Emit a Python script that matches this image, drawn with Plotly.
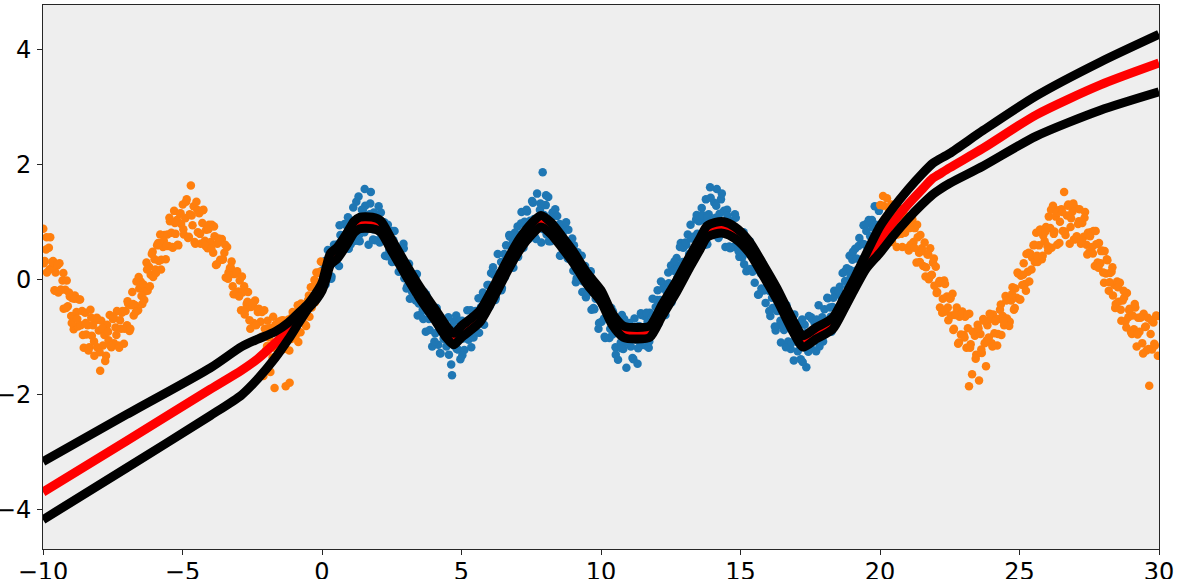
import plotly.graph_objects as go

# ---- training points (blue), x in [0, 20] ----
blue_x = [
0.01,0.06,0.11,0.14,0.21,0.25,0.31,0.34,0.41,0.46,
0.52,0.56,0.61,0.66,0.70,0.76,0.81,0.85,0.91,0.96,
1.01,1.05,1.12,1.16,1.20,1.26,1.31,1.35,1.41,1.46,
1.52,1.55,1.61,1.67,1.71,1.75,1.82,1.86,1.90,1.97,
2.01,2.07,2.11,2.15,2.22,2.26,2.30,2.36,2.41,2.45,
2.51,2.56,2.60,2.66,2.72,2.75,2.81,2.86,2.92,2.95,
3.02,3.06,3.12,3.15,3.21,3.27,3.30,3.36,3.40,3.47,
3.52,3.55,3.61,3.66,3.72,3.76,3.80,3.86,3.91,3.95,
4.02,4.06,4.11,4.17,4.20,4.25,4.31,4.36,4.40,4.46,
4.51,4.55,4.62,4.66,4.71,4.75,4.81,4.87,4.91,4.96,
5.02,5.06,5.10,5.17,5.21,5.25,5.31,5.35,5.42,5.46,
5.51,5.57,5.61,5.65,5.70,5.77,5.81,5.86,5.90,5.97,
6.01,6.06,6.12,6.16,6.21,6.26,6.30,6.35,6.42,6.45,
6.51,6.56,6.60,6.67,6.71,6.75,6.82,6.86,6.91,6.95,
7.01,7.07,7.11,7.15,7.22,7.26,7.31,7.35,7.41,7.46,
7.51,7.56,7.60,7.67,7.71,7.75,7.81,7.86,7.91,7.96,
8.02,8.05,8.11,8.16,8.20,8.26,8.30,8.36,8.41,8.45,
8.52,8.56,8.61,8.65,8.72,8.75,8.81,8.86,8.90,8.97,
9.01,9.06,9.10,9.16,9.21,9.25,9.31,9.37,9.40,9.46,
9.51,9.55,9.62,9.66,9.70,9.76,9.81,9.86,9.91,9.95,
10.02,10.06,10.11,10.15,10.21,10.25,10.30,10.37,10.41,10.46,
10.52,10.55,10.61,10.66,10.71,10.75,10.80,10.86,10.91,10.96,
11.01,11.07,11.11,11.16,11.20,11.25,11.31,11.36,11.41,11.45,
11.51,11.56,11.60,11.67,11.71,11.75,11.81,11.85,11.92,11.96,
12.01,12.06,12.12,12.15,12.20,12.26,12.31,12.35,12.41,12.46,
12.51,12.55,12.61,12.66,12.71,12.76,12.80,12.86,12.91,12.95,
13.02,13.06,13.11,13.16,13.21,13.25,13.30,13.36,13.41,13.45,
13.51,13.57,13.61,13.65,13.70,13.76,13.81,13.86,13.91,13.95,
14.02,14.06,14.11,14.15,14.21,14.25,14.30,14.36,14.41,14.46,
14.52,14.56,14.60,14.66,14.71,14.76,14.80,14.86,14.90,14.96,
15.01,15.06,15.11,15.15,15.21,15.26,15.30,15.35,15.42,15.46,
15.51,15.55,15.61,15.66,15.71,15.75,15.81,15.86,15.90,15.96,
16.02,16.07,16.10,16.15,16.21,16.26,16.31,16.35,16.41,16.45,
16.51,16.56,16.62,16.65,16.71,16.76,16.80,16.85,16.91,16.96,
17.01,17.05,17.11,17.16,17.21,17.25,17.30,17.36,17.41,17.45,
17.52,17.56,17.61,17.65,17.71,17.76,17.80,17.86,17.90,17.96,
18.01,18.06,18.11,18.15,18.21,18.26,18.30,18.36,18.40,18.46,
18.52,18.56,18.61,18.66,18.70,18.75,18.81,18.86,18.91,18.95,
19.01,19.07,19.11,19.16,19.20,19.26,19.31,19.35,19.41,19.45,
19.51,19.56,19.60,19.65,19.71,19.75,19.81,19.85,19.90,19.96]
blue_y = [
.16,-.02,.33,.09,.52,.07,.37,.06,.52,.46,
.29,.62,.24,.78,.68,.57,.97,.69,.93,.54,
1.04,.73,1.26,.90,.68,1.06,1.45,.67,1.07,1.21,
.83,1.29,1.06,.61,1.14,1.53,.88,1.17,.69,.96,
1.03,.65,1.17,.77,.98,.42,.77,.96,.52,.73,
.31,.69,.85,.35,.46,.14,.51,.25,.63,.03,
.19,-.11,.28,-.33,.06,-.18,.06,-.36,.10,-.41,
-.61,-.29,-.52,-.21,-.90,-.54,-.43,-.87,-.61,-1.16,
-.56,-.93,-.49,-1.13,-.81,-1.28,-.77,-1.02,-.70,-1.16,
-.86,-1.30,-.98,-1.66,-.73,-1.15,-.62,-1.21,-.89,-1.38,
-.71,-1.02,-1.22,-.75,-.53,-1.04,-.78,-1.17,-.57,-.76,
-.54,-.91,-.32,-.70,-.47,-.22,-.78,-.29,-.41,-.09,
-.46,.12,-.22,.09,-.35,.07,.45,-.07,.31,-.14,
.31,.05,.60,.33,.78,.29,.63,.21,.82,.61,
.93,.58,.79,1.18,.56,1.01,.79,1.19,.71,1.03,
.79,1.34,1.06,.71,1.50,.94,1.22,.65,1.87,1.13,
1.30,.79,1.44,.98,.67,1.17,.82,1.23,.71,.91,
.97,.43,.79,.94,.53,1.00,.37,.67,.45,.72,
.16,.47,-.04,.48,.25,.00,.42,-.03,.19,-.30,
.12,-.18,.14,-.52,-.15,-.51,-.33,-.15,-.85,-.36,
-.73,-.33,-.67,-1.01,-.51,-.66,-1.01,-.49,-.95,-.71,
-1.17,-.82,-1.39,-.74,-1.09,-.61,-1.20,-.95,-1.53,-.83,
-.75,-1.16,-.91,-1.38,-.67,-1.04,-1.46,-.80,-1.14,-.61,
-1.01,-.63,-1.14,-.73,-1.18,-.57,-.73,-.33,-.80,-.47,
-.35,-.76,-.35,-.03,-.51,-.08,-.61,-.20,.13,-.32,
.25,-.21,.16,-.19,.38,.24,.07,.64,.26,.56,
.21,.61,.79,.45,.96,.34,.75,.53,1.05,.80,
1.02,.69,1.25,.81,1.04,1.40,.62,1.14,1.61,.92,
.78,1.34,1.08,1.58,.73,1.15,1.40,.86,1.20,.57,
1.22,.84,.58,1.02,.86,.57,1.14,.62,.81,.40,
.77,.39,.83,.48,.15,.64,.45,.19,.58,.17,
-.05,.35,.18,-.25,.24,-.15,.27,-.18,-.40,-.09,
-.19,-.63,-.05,-.49,-.29,-.88,-.54,-.33,-.79,-1.09,
-.48,-.87,-.74,-.44,-1.07,-.73,-1.20,-.82,-1.40,-.76,
-.80,-1.24,-.91,-1.38,-.69,-1.14,-.78,-1.52,-.94,-.63,
-1.18,-.68,-1.01,-.74,-1.24,-.78,-.44,-1.01,-.79,-1.07,
-.51,-.80,-.31,-.89,-.48,-.90,-.47,-.19,-.60,-.24,
-.54,-.12,-.29,.12,-.42,-.02,.20,-.12,.42,.06,
.35,.08,.54,.37,.13,.73,.35,.63,.95,.39,
.85,.54,1.04,.76,1.04,.60,1.28,.96,.81,1.20]

blue_x2 = [
0.03,0.13,0.23,0.33,0.43,0.53,0.63,0.73,0.83,0.93,
1.03,1.13,1.23,1.33,1.43,1.53,1.63,1.73,1.83,1.93,
2.03,2.13,2.23,2.33,2.43,2.53,2.63,2.73,2.83,2.93,
3.03,3.13,3.23,3.33,3.43,3.53,3.63,3.73,3.83,3.93,
4.03,4.13,4.23,4.33,4.43,4.53,4.63,4.73,4.83,4.93,
5.03,5.13,5.23,5.33,5.43,5.53,5.63,5.73,5.83,5.93,
6.03,6.13,6.23,6.33,6.43,6.53,6.63,6.73,6.83,6.93,
7.03,7.13,7.23,7.33,7.43,7.53,7.63,7.73,7.83,7.93,
8.03,8.13,8.23,8.33,8.43,8.53,8.63,8.73,8.83,8.93,
9.03,9.13,9.23,9.33,9.43,9.53,9.63,9.73,9.83,9.93,
10.03,10.13,10.23,10.33,10.43,10.53,10.63,10.73,10.83,10.93,
11.03,11.13,11.23,11.33,11.43,11.53,11.63,11.73,11.83,11.93,
12.03,12.13,12.23,12.33,12.43,12.53,12.63,12.73,12.83,12.93,
13.03,13.13,13.23,13.33,13.43,13.53,13.63,13.73,13.83,13.93,
14.03,14.13,14.23,14.33,14.43,14.53,14.63,14.73,14.83,14.93,
15.03,15.13,15.23,15.33,15.43,15.53,15.63,15.73,15.83,15.93,
16.03,16.13,16.23,16.33,16.43,16.53,16.63,16.73,16.83,16.93,
17.03,17.13,17.23,17.33,17.43,17.53,17.63,17.73,17.83,17.93,
18.03,18.13,18.23,18.33,18.43,18.53,18.63,18.73,18.83,18.93,
19.03,19.13,19.23,19.33,19.43,19.53,19.63,19.73,19.83,19.93]
blue_y2 = [
.30,-.08,.31,.02,.61,.46,.95,.53,.79,1.09,
.62,1.01,1.36,.78,1.22,1.58,.89,1.33,.70,1.11,
1.28,.76,1.00,.41,.71,.85,.32,.53,.25,.55,
-.15,.16,-.21,.08,-.62,-.29,-.68,-.25,-.68,-.53,
-1.07,-.72,-1.27,-.71,-1.04,-.65,-1.47,-.86,-1.20,-.71,
-1.31,-.84,-1.02,-.53,-1.00,-.58,-.92,-.33,-.51,-.09,
-.43,.22,-.31,.11,-.18,.45,.25,.75,.30,.74,
.40,.98,.76,1.22,.74,1.37,.74,1.07,1.33,.88,
1.47,.67,1.09,.84,1.11,.42,.83,.46,.87,.40,
.60,.03,.26,-.21,.24,-.23,.15,-.49,-.31,-.75,
-.41,-.99,-.50,-.85,-.55,-1.30,-.81,-1.19,-.68,-1.09,
-.82,-1.36,-.91,-1.19,-.58,-1.00,-.57,-1.07,-.63,-.81,
-.18,-.54,-.15,-.52,-.06,-.39,.32,.03,.57,.31,
.65,.26,.72,.50,1.13,.74,1.13,.61,1.09,1.43,
.83,1.29,.76,1.50,.91,1.12,.55,.91,1.08,.50,
.78,.27,.53,.67,.14,.42,-.26,.11,-.18,.05,
-.54,-.31,-.81,-.40,-.71,-.45,-1.17,-.72,-1.09,-.60,
-1.08,-.75,-1.43,-.93,-1.25,-.65,-1.03,-.69,-1.16,-.65,
-.95,-.32,-.64,-.31,-.70,-.20,-.39,.14,-.35,.17,
.49,.16,.59,.20,.62,.98,.51,.91,.59,1.27]

# ---- test points (orange), x in [-10, 0] and [20, 30] ----
orange_x = [
-9.99,-9.94,-9.89,-9.86,-9.79,-9.74,-9.70,-9.64,-9.59,-9.55,
-9.49,-9.45,-9.41,-9.35,-9.30,-9.26,-9.20,-9.15,-9.11,-9.04,
-8.99,-8.95,-8.90,-8.86,-8.80,-8.75,-8.71,-8.65,-8.60,-8.54,
-8.49,-8.45,-8.40,-8.34,-8.30,-8.25,-8.21,-8.16,-8.10,-8.06,
-8.00,-7.95,-7.91,-7.85,-7.80,-7.74,-7.70,-7.65,-7.61,-7.55,
-7.49,-7.46,-7.40,-7.35,-7.30,-7.24,-7.20,-7.15,-7.10,-7.04,
-6.99,-6.95,-6.90,-6.84,-6.80,-6.75,-6.70,-6.65,-6.59,-6.55,
-6.50,-6.44,-6.40,-6.35,-6.29,-6.25,-6.20,-6.14,-6.10,-6.05,
-6.00,-5.95,-5.91,-5.85,-5.80,-5.76,-5.70,-5.65,-5.60,-5.54,
-5.50,-5.45,-5.40,-5.35,-5.30,-5.25,-5.20,-5.15,-5.09,-5.05,
-4.99,-4.95,-4.90,-4.85,-4.80,-4.74,-4.70,-4.64,-4.60,-4.54,
-4.50,-4.45,-4.40,-4.35,-4.29,-4.25,-4.20,-4.15,-4.10,-4.05,
-3.99,-3.95,-3.90,-3.85,-3.80,-3.75,-3.70,-3.65,-3.59,-3.55,
-3.50,-3.45,-3.40,-3.35,-3.30,-3.24,-3.20,-3.15,-3.10,-3.04,
-3.00,-2.95,-2.90,-2.85,-2.79,-2.75,-2.70,-2.65,-2.60,-2.55,
-2.49,-2.45,-2.40,-2.35,-2.30,-2.25,-2.20,-2.15,-2.10,-2.05,
-2.00,-1.95,-1.90,-1.85,-1.80,-1.75,-1.70,-1.65,-1.60,-1.55,
-1.50,-1.45,-1.40,-1.35,-1.30,-1.25,-1.20,-1.16,-1.10,-1.05,
-1.00,-0.95,-0.90,-0.85,-0.80,-0.75,-0.70,-0.65,-0.60,-0.55,
-0.50,-0.45,-0.40,-0.35,-0.30,-0.25,-0.20,-0.15,-0.10,-0.04,
20.01,20.05,20.11,20.15,20.20,20.25,20.30,20.36,20.40,20.45,
20.51,20.55,20.60,20.65,20.70,20.76,20.80,20.85,20.90,20.95,
21.00,21.05,21.10,21.16,21.20,21.25,21.31,21.35,21.40,21.45,
21.50,21.55,21.60,21.65,21.70,21.75,21.80,21.86,21.90,21.95,
22.00,22.05,22.11,22.15,22.20,22.25,22.30,22.35,22.40,22.45,
22.50,22.55,22.60,22.65,22.70,22.75,22.80,22.85,22.90,22.95,
23.00,23.05,23.10,23.15,23.20,23.25,23.30,23.19,23.40,23.45,
23.50,23.55,23.60,23.65,23.70,23.75,23.80,23.85,23.90,23.95,
24.00,24.05,24.10,24.15,24.20,24.25,24.30,24.35,24.40,24.45,
24.50,24.55,24.60,24.65,24.70,24.75,24.80,24.85,24.90,24.95,
25.00,25.05,25.10,25.15,25.20,25.25,25.30,25.35,25.40,25.45,
25.50,25.55,25.60,25.65,25.70,25.75,25.80,25.85,25.90,25.95,
26.00,26.05,26.10,26.15,26.20,26.25,26.30,26.35,26.40,26.45,
26.50,26.55,26.60,26.65,26.70,26.75,26.80,26.85,26.90,26.95,
27.00,27.05,27.10,27.15,27.20,27.25,27.30,27.35,27.40,27.45,
27.50,27.55,27.60,27.65,27.70,27.75,27.80,27.85,27.90,27.95,
28.00,28.05,28.10,28.15,28.20,28.25,28.30,28.35,28.40,28.45,
28.50,28.55,28.60,28.65,28.70,28.75,28.80,28.85,28.90,28.95,
29.00,29.05,29.10,29.15,29.20,29.25,29.30,29.35,29.40,29.45,
29.50,29.55,29.60,29.65,29.70,29.75,29.80,29.85,29.90,29.96]
orange_y = [
.89,.33,.53,.13,.56,.74,.20,.33,-.18,.13,
.25,-.22,.29,-.17,-.01,-.50,-.17,-.01,-.46,-.29,
-.63,-.32,-.86,-.27,-.56,-.81,-.34,-.79,-.54,-1.18,
-.57,-.95,-.79,-1.17,-.52,-.97,-.79,-1.32,-.70,-1.17,
-.88,-1.58,-.71,-1.14,-.96,-1.32,-.78,-1.05,-.61,-1.17,
-.68,-1.10,-.83,-.54,-1.14,-.70,-.85,-.54,-1.11,-.54,
-.79,-.41,-.89,-.44,-.21,-.62,-.44,-.03,-.53,-.15,
-.03,-.42,-.08,-.20,.30,-.19,.23,.09,.45,.05,
.36,.12,.60,.33,.79,.35,.57,.78,.36,.79,
.59,1.02,.82,.56,1.20,.80,1.04,.60,1.15,.97,
1.31,.79,1.07,1.40,.73,1.14,1.64,.95,1.28,.63,
1.36,.83,1.16,.63,.99,1.22,.68,.87,.55,.96,
.66,.96,.47,.76,.26,.63,.72,.35,.71,.36,
.47,.04,.57,.13,.20,.32,-.11,.10,-.25,.15,
-.20,-.01,-.53,-.22,-.11,-.52,-.42,-.21,-.70,-.47,
-.46,-.75,-.36,-.78,-.56,-1.02,-.73,-.56,-1.67,-.85,
-1.22,-.71,-1.00,-1.60,-.84,-.64,-1.88,-1.19,-.91,-.73,
-.82,-1.08,-.70,-1.20,-1.85,-.89,-.69,-1.79,-1.03,-.56,
-.63,-.98,-.72,-1.08,-.58,-.41,-.72,-.43,-.78,-.47,
-.35,-.64,-.13,-.42,-.11,-.39,.13,-.10,.12,.32,
1.30,.77,1.46,1.03,.69,1.42,1.11,.79,1.31,.96,
.77,1.16,.57,1.02,1.24,.80,.57,1.10,.82,1.10,
.56,.90,.61,1.05,.66,.90,.30,.74,.47,.78,
.55,.24,.65,.22,.44,.01,.55,.09,.30,-.10,
.23,-.21,-.06,-.48,-.03,-.33,-.01,-.55,-.29,-.70,
-.33,-.62,-.24,-.85,-.61,-.48,-1.11,-.64,-.95,-.55,
-.96,-.64,-1.18,-.84,-.59,-1.12,-1.64,-1.85,-.97,-1.30,
-.78,-1.75,-.94,-1.27,-.68,-1.10,-1.50,-.79,-1.00,-.68,
-1.10,-.60,-.93,-.69,-1.14,-.68,-.52,-.96,-.63,-.79,
-.28,-.67,-.33,-.73,-.36,-.13,-.52,-.15,-.31,.11,
-.34,.07,-.09,.29,-.07,.45,.14,-.03,.45,.39,
.60,.31,.82,.31,.60,.87,.36,.77,.67,.92,
.59,1.10,.90,.56,1.29,.84,1.10,.61,1.21,1.01,
1.23,.85,1.53,.78,1.12,1.31,.63,1.07,1.19,.70,
1.25,.76,.97,1.23,.63,.99,.75,1.18,.61,.82,
.48,.83,.57,.85,.24,.62,.30,.64,.29,.51,
.13,.50,.11,.34,-.19,.12,.14,-.27,-.09,-.42,
-.03,-.38,-.05,-.71,-.36,-.31,-.72,-.23,-.65,-.50,
-.91,-.62,-.86,-.48,-1.16,-.66,-.90,-.65,-1.10,-.59,
-.82,-1.23,-.66,-1.84,-.94,-1.21,-.74,-1.14,-.62,-1.32]

orange_x2 = [
-9.97,-9.87,-9.77,-9.67,-9.57,-9.47,-9.37,-9.27,-9.17,-9.07,
-8.97,-8.87,-8.77,-8.67,-8.57,-8.47,-8.37,-8.27,-8.17,-8.07,
-7.97,-7.87,-7.77,-7.67,-7.57,-7.47,-7.37,-7.27,-7.17,-7.07,
-6.97,-6.87,-6.77,-6.67,-6.57,-6.47,-6.37,-6.27,-6.17,-6.07,
-5.97,-5.87,-5.77,-5.67,-5.57,-5.47,-5.37,-5.27,-5.17,-5.07,
-4.97,-4.87,-4.77,-4.67,-4.57,-4.47,-4.37,-4.27,-4.17,-4.07,
-3.97,-3.87,-3.77,-3.67,-3.57,-3.47,-3.37,-3.27,-3.17,-3.07,
-2.97,-2.87,-2.77,-2.67,-2.57,-2.47,-2.37,-2.27,-2.17,-2.07,
-1.97,-1.87,-1.77,-1.67,-1.57,-1.47,-1.37,-1.27,-1.17,-1.07,
-0.97,-0.87,-0.77,-0.67,-0.57,-0.47,-0.37,-0.27,-0.17,-0.07,
20.03,20.13,20.23,20.33,20.43,20.53,20.63,20.73,20.83,20.93,
21.03,21.13,21.23,21.33,21.43,21.53,21.63,21.73,21.83,21.93,
22.03,22.13,22.23,22.33,22.43,22.53,22.63,22.73,22.83,22.93,
23.03,23.13,23.23,23.33,23.43,23.53,23.63,23.73,23.83,23.93,
24.03,24.13,24.23,24.33,24.43,24.53,24.63,24.73,24.83,24.93,
25.03,25.13,25.23,25.33,25.43,25.53,25.63,25.73,25.83,25.93,
26.03,26.13,26.23,26.33,26.43,26.53,26.63,26.73,26.83,26.93,
27.03,27.13,27.23,27.33,27.43,27.53,27.63,27.73,27.83,27.93,
28.03,28.13,28.23,28.33,28.43,28.53,28.63,28.73,28.83,28.93,
29.03,29.13,29.23,29.33,29.43,29.53,29.63,29.73,29.83,29.93]
orange_y2 = [
.29,.74,.18,.31,-.19,.27,-.17,.12,-.49,-.22,
-.75,-.33,-.68,-.34,-.96,-.75,-1.23,-.66,-1.07,-.66,
-1.26,-.84,-1.41,-.90,-1.15,-.64,-.96,-1.18,-.57,-.85,
-.37,-.85,-.42,-.56,.05,-.28,-.35,.18,-.11,.49,
.18,.64,.18,.68,.59,1.08,.57,.99,.61,1.16,
.88,1.36,.75,1.12,.66,1.22,.80,1.21,.59,.88,
.55,.93,.27,.67,.35,.61,.02,.22,-.25,.12,
-.29,.06,-.60,-.38,-.85,-.40,-.79,-.50,-.99,-.53,
-1.15,-.84,-1.35,-.78,-1.08,-.71,-1.17,-.90,-1.23,-.64,
-.96,-.44,-.91,-.53,-.80,-.27,-.48,.00,-.26,.14,
.65,1.29,.86,1.21,.66,1.08,.79,1.23,.85,1.03,
.51,1.00,.56,.96,.31,.50,.06,.44,.08,.37,
-.23,-.02,-.57,-.07,-.48,-.32,-.87,-.58,-1.09,-.59,
-1.00,-.60,-1.18,-.90,-1.37,-.84,-1.21,-.71,-1.05,-.59,
-1.16,-.72,-.94,-.43,-.72,-.36,-.80,-.25,-.49,.13,
-.34,.09,-.19,.47,.18,.61,.42,.87,.42,.84,
.51,1.22,.80,1.17,.64,1.18,.84,1.29,.92,1.33,
.71,1.02,.69,1.08,.44,.76,.46,.85,.21,.50,
-.05,.36,-.04,.22,-.49,-.13,-.52,-.19,-.83,-.53,
-.94,-.42,-.95,-.66,-1.28,-.81,-1.20,-.70,-1.11,-.63]

# ---- model prediction: mean (red) and bounds (black) ----
line_x = [-10, -7, -4, -2.88, -2.3, -1.68, -1.2, -0.85, -0.5, -0.2,
          0, 0.15, 0.3, 0.55, 0.9, 1.15, 1.35, 1.8, 2.1, 2.5,
          3.0, 3.5, 4.1, 4.45, 4.72, 5.0, 5.65, 6.25, 6.7, 7.1,
          7.5, 7.85, 8.2, 8.6, 9.0, 9.5, 10.0, 10.4, 10.8, 11.3,
          11.75, 12.2, 12.7, 13.2, 13.55, 13.8, 14.1, 14.4, 14.8, 15.3,
          15.8, 16.3, 16.9, 17.25, 17.7, 18.3, 18.7, 19.05, 19.5, 20.0,
          20.5, 21.0, 21.5, 21.9, 22.1, 22.5, 23.7, 25.6, 27.9, 30]
mean_y = [-3.69, -2.80, -1.90, -1.57, -1.37, -1.10, -0.87, -0.65, -0.45, -0.28,
          -0.12, 0.12, 0.36, 0.47, 0.72, 0.92, 0.99, 0.99, 0.93, 0.60,
          0.18, -0.22, -0.64, -0.90, -1.03, -0.90, -0.64, -0.12, 0.30, 0.63,
          0.88, 1.02, 0.90, 0.66, 0.40, 0.02, -0.28, -0.68, -0.90, -0.93,
          -0.90, -0.52, -0.12, 0.33, 0.63, 0.84, 0.90, 0.91, 0.82, 0.58,
          0.18, -0.24, -0.82, -1.07, -0.93, -0.76, -0.42, -0.10, 0.32, 0.70,
          1.02, 1.31, 1.57, 1.77, 1.83, 1.95, 2.29, 2.87, 3.39, 3.77]
upper_y = [-3.16, -2.34, -1.53, -1.16, -1.03, -0.90, -0.74, -0.58, -0.42, -0.22,
           -0.05, 0.22, 0.46, 0.57, 0.82, 1.02, 1.09, 1.09, 1.03, 0.70,
           0.28, -0.12, -0.54, -0.80, -0.93, -0.80, -0.54, -0.02, 0.40, 0.73,
           0.98, 1.12, 1.00, 0.76, 0.50, 0.12, -0.18, -0.58, -0.80, -0.83,
           -0.80, -0.42, -0.02, 0.43, 0.73, 0.94, 1.00, 1.01, 0.92, 0.68,
           0.28, -0.14, -0.72, -0.97, -0.83, -0.66, -0.32, 0.00, 0.45, 0.93,
           1.27, 1.57, 1.84, 2.03, 2.09, 2.20, 2.60, 3.20, 3.79, 4.27]
lower_y = [-4.17, -3.27, -2.36, -2.00, -1.72, -1.36, -1.03, -0.76, -0.50, -0.34,
           -0.19, 0.02, 0.26, 0.37, 0.62, 0.82, 0.89, 0.89, 0.83, 0.50,
           0.08, -0.32, -0.74, -1.00, -1.13, -1.00, -0.74, -0.22, 0.20, 0.53,
           0.78, 0.92, 0.80, 0.56, 0.30, -0.08, -0.38, -0.78, -1.00, -1.03,
           -1.00, -0.62, -0.22, 0.23, 0.53, 0.74, 0.80, 0.81, 0.72, 0.48,
           0.08, -0.34, -0.92, -1.17, -1.03, -0.86, -0.52, -0.20, 0.19, 0.47,
           0.78, 1.06, 1.31, 1.49, 1.56, 1.68, 1.98, 2.50, 2.95, 3.27]

x_ticks = [-10, -5, 0, 5, 10, 15, 20, 25, 30]
y_ticks = [-4, -2, 0, 2, 4]

fig = go.Figure()
fig.add_trace(go.Scatter(x=blue_x + blue_x2, y=blue_y + blue_y2, mode="markers",
                         marker=dict(color="#1f77b4", size=8.5), showlegend=False))
fig.add_trace(go.Scatter(x=orange_x + orange_x2, y=orange_y + orange_y2, mode="markers",
                         marker=dict(color="#ff7f0e", size=8.5), showlegend=False))
line_common = dict(shape="spline", smoothing=0.7)
fig.add_trace(go.Scatter(x=line_x, y=mean_y, mode="lines",
                         line=dict(color="#ff0000", width=9, **line_common), showlegend=False))
fig.add_trace(go.Scatter(x=line_x, y=upper_y, mode="lines",
                         line=dict(color="#000000", width=9, **line_common), showlegend=False))
fig.add_trace(go.Scatter(x=line_x, y=lower_y, mode="lines",
                         line=dict(color="#000000", width=9, **line_common), showlegend=False))

axis_common = dict(
    showgrid=False, zeroline=False, showline=True, linecolor="#262626",
    linewidth=1, mirror=True, ticks="outside", ticklen=5, tickwidth=1,
    tickcolor="#262626", automargin=False,
    tickfont=dict(family="DejaVu Sans", size=24, color="#000000"),
)
fig.update_xaxes(range=[-10, 30], tickvals=x_ticks, ticklabelstandoff=-4, **axis_common)
fig.update_yaxes(range=[-4.68, 4.78], tickvals=y_ticks, ticklabelstandoff=1, **axis_common)

fig.update_layout(
    width=1178, height=579,
    margin=dict(l=43, r=19, t=5, b=30),
    plot_bgcolor="#eeeeee", paper_bgcolor="#ffffff",
)

fig.write_html("out.html", config={"displayModeBar": False},
               post_script="document.body.style.margin='0';document.body.style.padding='0';")
